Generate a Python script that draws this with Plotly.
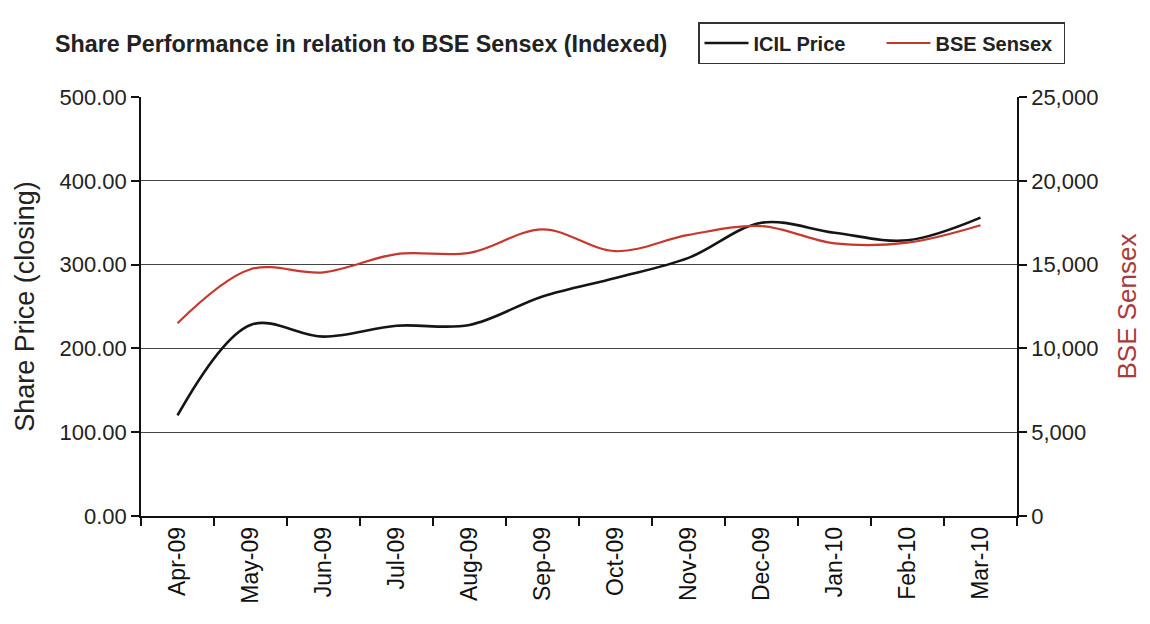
import plotly.graph_objects as go

months = ["Apr-09", "May-09", "Jun-09", "Jul-09", "Aug-09", "Sep-09",
          "Oct-09", "Nov-09", "Dec-09", "Jan-10", "Feb-10", "Mar-10"]
icil_price = [120, 228, 214, 227, 228, 262, 284, 308, 350, 338, 329, 356]
bse_sensex = [11500, 14720, 14540, 15630, 15700, 17100, 15800, 16770, 17300, 16270, 16310, 17350]

left_ticks = [0, 100, 200, 300, 400, 500]
left_labels = ["0.00", "100.00", "200.00", "300.00", "400.00", "500.00"]
right_ticks = [0, 5000, 10000, 15000, 20000, 25000]
right_labels = ["0", "5,000", "10,000", "15,000", "20,000", "25,000"]

FONT = "Liberation Sans, Arial, sans-serif"
RED = "#c8372d"
W, H = 1142, 616

fig = go.Figure()
fig.add_trace(go.Scatter(x=months, y=icil_price, name="<b>ICIL Price</b>", mode="lines",
                         line=dict(color="#151515", width=2.6, shape="spline", smoothing=1.0)))
fig.add_trace(go.Scatter(x=months, y=bse_sensex, name="<b>BSE Sensex</b>", mode="lines", yaxis="y2",
                         line=dict(color=RED, width=2.2, shape="spline", smoothing=1.0)))

fig.update_layout(
    width=W, height=H,
    margin=dict(l=133, r=133, t=89, b=108),
    paper_bgcolor="white", plot_bgcolor="white",
    font=dict(family=FONT, size=22, color="#222"),
    title=dict(text="<b>Share Performance in relation to BSE Sensex (Indexed)</b>",
               x=47/W, xref="container", xanchor="left",
               y=1-36/H, yref="container", yanchor="middle",
               font=dict(family=FONT, size=23.3, color="#222")),
    showlegend=True,
    legend=dict(orientation="h", x=(698-141)/876, y=(516-22)/419, xanchor="left", yanchor="top",
                bordercolor="#333", borderwidth=1.5, bgcolor="white",
                font=dict(family=FONT, size=20, color="#222"),
                itemwidth=44, entrywidth=123, tracegroupgap=0),
    xaxis=dict(type="category", range=[-0.5, 11.5], tickson="boundaries", automargin=False,
               ticks="outside", ticklen=8, tickcolor="#111", tickwidth=1.5,
               showline=True, linecolor="#111", linewidth=1.5, showgrid=False,
               tickangle=-90, tickfont=dict(family=FONT, size=23, color="#111")),
    yaxis=dict(range=[0, 500], tickvals=left_ticks, ticktext=left_labels, automargin=False,
               ticks="outside", ticklen=8, tickcolor="#111", tickwidth=1.5,
               showline=True, linecolor="#111", linewidth=1.5,
               showgrid=True, gridcolor="#444", gridwidth=1.4, zeroline=False,
               tickfont=dict(family=FONT, size=22, color="#222"),
               title=dict(text="Share Price (closing)", standoff=17,
                          font=dict(family=FONT, size=27, color="#222"))),
    yaxis2=dict(range=[0, 25000], tickvals=right_ticks, ticktext=right_labels, automargin=False,
                overlaying="y", side="right",
                ticks="outside", ticklen=8, tickcolor="#111", tickwidth=1.5,
                showline=True, linecolor="#111", linewidth=1.5,
                showgrid=False, zeroline=False,
                tickfont=dict(family=FONT, size=22, color="#222"),
                title=dict(text="BSE Sensex", standoff=20,
                           font=dict(family=FONT, size=26, color="#a83a3a"))),
)

fig.write_html("out.html")
